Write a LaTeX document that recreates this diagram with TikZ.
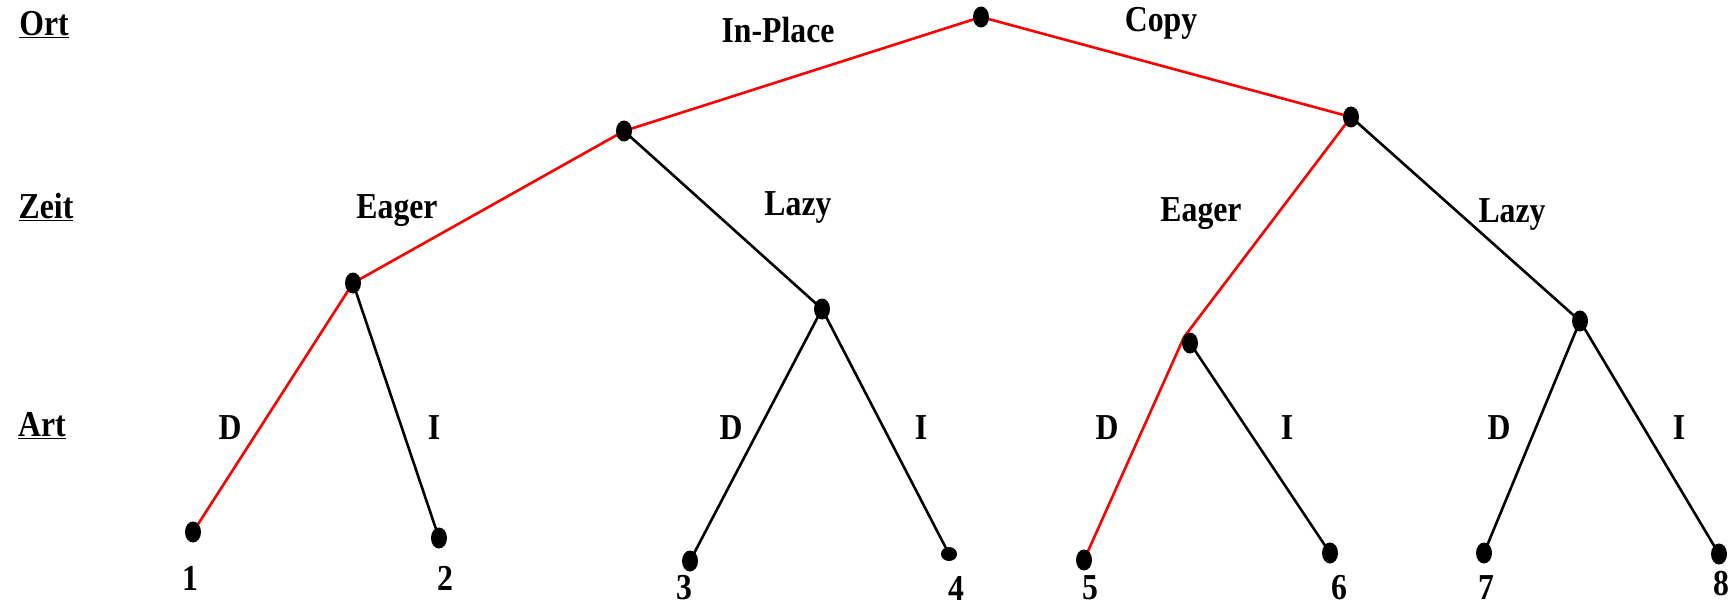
\documentclass[tikz,border=0pt]{standalone}
\usepackage{fontspec}
\setmainfont{Liberation Serif}
\newfontfamily\schmal[FakeStretch=0.87]{Liberation Serif}
\usetikzlibrary{shapes.geometric}
\begin{document}
\begin{tikzpicture}[x=1pt, y=-1pt,
    pkt/.style={ellipse, fill, inner sep=0pt, minimum width=16pt, minimum height=21pt},
    txt/.style={font=\schmal\fontsize{36.5}{36.5}\selectfont\bfseries, inner sep=0pt},
    kante/.style={line width=2.6pt},
    rot/.style={kante, red}]
\useasboundingbox (0,0) rectangle (1731,607);
% Ebenen
\node[txt] (ort) at (44,25) {\underline{Ort}};
\node[txt] (zeit) at (46,207) {\underline{Zeit}};
\node[txt] (art) at (42,426) {\underline{Art}};
% Knoten
\coordinate (root) at (981,17);
\coordinate (inpl) at (624,131);
\coordinate (copy) at (1351,117);
\coordinate (ieag) at (353,283);
\coordinate (ilaz) at (822,309);
\coordinate (ceag) at (1190,343);
\coordinate (claz) at (1580,321);
\coordinate (b1) at (193,532);
\coordinate (b2) at (439,538);
\coordinate (b3) at (690,561);
\coordinate (b4) at (949,554);
\coordinate (b5) at (1084,560);
\coordinate (b6) at (1330,553);
\coordinate (b7) at (1484,553);
\coordinate (b8) at (1719,554);
% Kanten
\draw[rot] (root) -- (inpl);
\draw[rot] (root) -- (copy);
\draw[rot] (inpl) -- (ieag);
\draw[kante] (inpl) -- (ilaz);
\draw[rot] (copy) -- ([xshift=-6pt, yshift=6pt]ceag) -- (b5);
\draw[kante] (copy) -- (claz);
\draw[rot] (ieag) -- (b1);
\draw[kante] (ieag) -- (b2);
\draw[kante] (ilaz) -- (b3);
\draw[kante] (ilaz) -- (b4);
\draw[kante] (ceag) -- (b6);
\draw[kante] (claz) -- (b7);
\draw[kante] (claz) -- (b8);
\foreach \p in {root,inpl,copy,ieag,ilaz,ceag,claz,b1,b2,b3,b5,b6,b7,b8}
  \node[pkt] at (\p) {};
\node[pkt, minimum height=14pt] at (b4) {};
% Beschriftungen
\node[txt] (tinpl) at (778,30) {In-Place};
\node[txt] (tcopy) at (1161,23) {Copy};
\node[txt] (tieag) at (397,211) {Eager};
\node[txt] (tilaz) at (798,207) {Lazy};
\node[txt] (tceag) at (1201,214) {Eager};
\node[txt] (tclaz) at (1512,214) {Lazy};
\node[txt] (d1) at (230,428) {D};
\node[txt] (i1) at (434,428) {I};
\node[txt] (d2) at (731,428) {D};
\node[txt] (i2) at (921,428) {I};
\node[txt] (d3) at (1107,428) {D};
\node[txt] (i3) at (1287,428) {I};
\node[txt] (d4) at (1499,428) {D};
\node[txt] (i4) at (1679,428) {I};
\node[txt] (n1) at (190,578) {1};
\node[txt] (n2) at (445,578) {2};
\node[txt] (n3) at (684,588) {3};
\node[txt] (n4) at (956,588) {4};
\node[txt] (n5) at (1090,588) {5};
\node[txt] (n6) at (1339,588) {6};
\node[txt] (n7) at (1486,588) {7};
\node[txt] (n8) at (1721,584) {8};
\end{tikzpicture}
\end{document}
